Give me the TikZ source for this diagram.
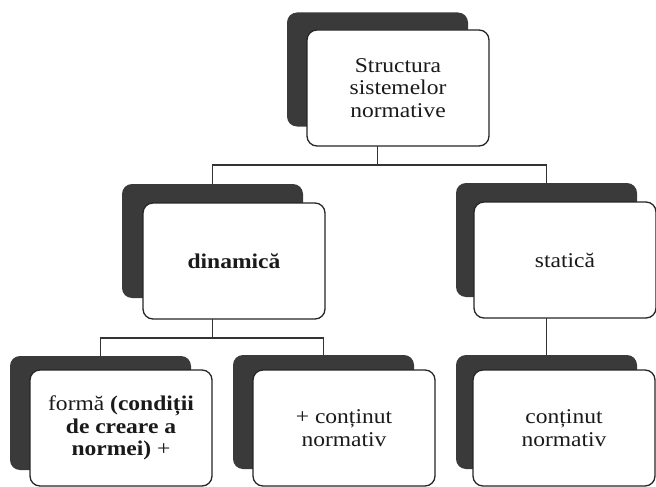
\documentclass[tikz,border=0pt]{standalone}
\usepackage{fontspec}
\setmainfont{Liberation Serif}[FakeStretch=1.12]
\usetikzlibrary{backgrounds}
\definecolor{backgray}{HTML}{3A3A3A}
\definecolor{textgray}{HTML}{1A1A1A}
\begin{document}
\begin{tikzpicture}[x=1pt,y=-1pt,
  back/.style={fill=backgray, draw=none, rounded corners=10pt,
    minimum width=181pt, minimum height=114pt, inner sep=0pt},
  front/.style={fill=white, draw=black!85, line width=1.3pt, rounded corners=10pt,
    minimum width=182pt, minimum height=116pt, inner sep=0pt, align=center,
    font=\fontsize{21}{22.5}\selectfont, text=textgray},
  conn/.style={draw=black!80, line width=1.8pt}]
\useasboundingbox (0,0) rectangle (656,487);

% back (dark) shapes
\node[back] (topD) at (377.5,69.5) {};
\node[back] (dinD) at (212.5,241) {};
\node[back] (staD) at (546.5,240) {};
\node[back] (b1D)  at (100.5,413) {};
\node[back] (b2D)  at (323.5,412) {};
\node[back] (b3D)  at (546.5,412) {};

% front (white) shapes
\node[front] (topW) at (398,88) {Structura\\sistemelor\\normative};
\node[front] (dinW) at (234,261) {\textbf{dinamică}};
\node[front] (staW) at (565,260) {statică};
\node[front] (b1W)  at (121,428) {formă \textbf{(condiții}\\\textbf{de creare a}\\\textbf{normei)} +};
\node[front] (b2W)  at (344,428) {+ conținut\\normativ};
\node[front] (b3W)  at (564,428) {conținut\\normativ};

\begin{scope}[on background layer]
  \fill[white] (0,0) rectangle (656,487);
  \draw[conn] (topD.center) -- (topD.center |- 0,165) -| (dinD.center);
  \draw[conn] (topD.center |- 0,165) -| (staD.center);
  \draw[conn] (dinD.center) -- (dinD.center |- 0,338) -| (b1D.center);
  \draw[conn] (dinD.center |- 0,338) -| (b2D.center);
  \draw[conn] (staD.center) -- (b3D.center);
\end{scope}
\end{tikzpicture}
\end{document}
